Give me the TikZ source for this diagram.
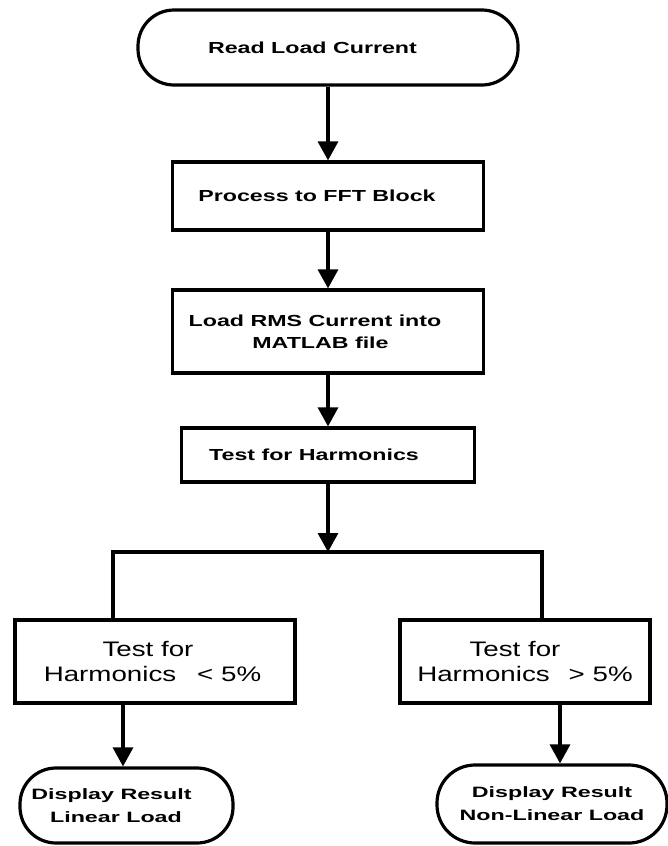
\documentclass[tikz,border=0pt]{standalone}
\usepackage{fontspec}
\setmainfont{Liberation Sans}
\newfontfamily\heavyfont[FakeStretch=1.45]{Liberation Sans}
\newfontfamily\endfont[FakeStretch=1.55]{Liberation Sans}
\newfontfamily\widefont[FakeStretch=1.32]{Liberation Sans}
\usetikzlibrary{arrows.meta}
\tikzset{
  lw/.style={line width=3.2pt},
  procbox/.style={draw, lw, rectangle, inner sep=0pt, align=center,
    font=\heavyfont\bfseries\fontsize{16}{22}\selectfont},
  termbox/.style={draw, lw, rectangle, rounded corners=36pt, inner sep=0pt, align=center,
    font=\heavyfont\bfseries\fontsize{16}{22}\selectfont},
  endbox/.style={draw, lw, rectangle, rounded corners=36pt, inner sep=0pt, align=center,
    font=\endfont\bfseries\fontsize{15}{23}\selectfont},
  testbox/.style={draw, lw, rectangle, inner sep=0pt, align=center,
    font=\widefont\fontsize{21}{25}\selectfont},
  arr/.style={lw, -{Triangle[length=19pt,width=20pt]}},
  conn/.style={lw},
}
\begin{document}
\begin{tikzpicture}[x=1pt,y=1pt]
\useasboundingbox (0,0) rectangle (668,-846);

\node[termbox, minimum width=380pt, minimum height=75pt] (start) at (328,-47.5)
  {Read Load Current\hspace*{31pt}};
\node[procbox, minimum width=311pt, minimum height=68pt] (b2) at (328,-196)
  {Process to FFT Block\hspace*{22pt}};
\node[procbox, minimum width=311pt, minimum height=83pt] (b3) at (328,-331.5)
  {Load RMS Current into\hspace*{26pt}\\ MATLAB file\hspace*{15pt}};
\node[procbox, minimum width=293pt, minimum height=54pt] (b4) at (328,-455)
  {Test for Harmonics\hspace*{28pt}};

\node[testbox, minimum width=280pt, minimum height=83pt] (lb) at (155,-661.5)
  {Test for\hspace*{14pt}\\ Harmonics\hspace*{21pt}< 5\%\hspace*{5pt}};
\node[testbox, minimum width=250pt, minimum height=83pt] (rb) at (525,-661.5)
  {Test for\hspace*{20pt}\\ Harmonics\hspace*{19pt}> 5\%};

\node[endbox, minimum width=213pt, minimum height=75pt] (le) at (126.5,-805.5)
  {Display Result\hspace*{30pt}\\ Linear Load\hspace*{21pt}};
\node[endbox, minimum width=230pt, minimum height=78pt, rounded corners=38pt] (re) at (552,-804)
  {Display Result\\ Non-Linear Load};

\coordinate (split) at (328,-552);
\coordinate (sl) at (113,-552);
\coordinate (sr) at (542,-552);
\coordinate (la) at (123,0);
\coordinate (ra) at (560,0);

\draw[arr] (start.south) -- (b2.north);
\draw[arr] (b2.south) -- (b3.north);
\draw[arr] (b3.south) -- (b4.north);
\draw[arr] (b4.south) -- (split);
\draw[conn] (lb.north -| sl) -- (sl) -- (sr) -- (rb.north -| sr);
\draw[arr] (lb.south -| la) -- (le.north -| la);
\draw[arr] (rb.south -| ra) -- (re.north -| ra);
\end{tikzpicture}
\end{document}
